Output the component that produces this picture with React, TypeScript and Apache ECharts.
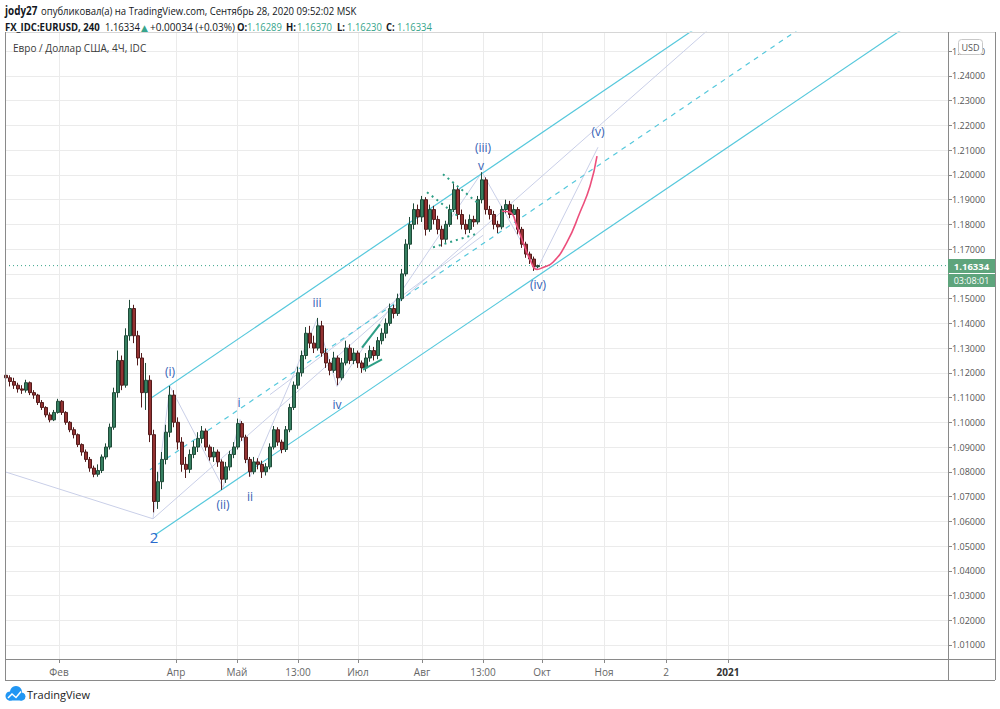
import React, { useEffect, useRef } from "react";
import * as echarts from "echarts";

// ---- data ----
const FIRST_DAY = 5; // day of year of first bar
const BAR_DAYS = 2; // each bar spans two days of the chart's time scale
// [open, close, low, high]
const candles: number[][] = [
  [1.119, 1.118, 1.116, 1.1205], [1.118, 1.1165, 1.1145, 1.119], [1.1165, 1.115, 1.1135, 1.118], [1.115, 1.1135, 1.112, 1.116],
  [1.1135, 1.113, 1.1115, 1.115], [1.113, 1.116, 1.112, 1.1172], [1.116, 1.112, 1.111, 1.1165], [1.112, 1.111, 1.1095, 1.113],
  [1.111, 1.108, 1.107, 1.1115], [1.108, 1.106, 1.105, 1.109], [1.106, 1.103, 1.102, 1.1065], [1.103, 1.101, 1.1, 1.104],
  [1.101, 1.104, 1.1005, 1.105], [1.104, 1.1085, 1.1035, 1.1095], [1.1085, 1.104, 1.103, 1.109], [1.104, 1.1, 1.099, 1.1045],
  [1.1, 1.097, 1.096, 1.1005], [1.097, 1.095, 1.0935, 1.098], [1.095, 1.091, 1.09, 1.0955], [1.091, 1.088, 1.0865, 1.0915],
  [1.088, 1.085, 1.084, 1.089], [1.085, 1.0815, 1.08, 1.086], [1.0815, 1.079, 1.0778, 1.0825], [1.079, 1.0805, 1.078, 1.083],
  [1.0805, 1.086, 1.0795, 1.087], [1.086, 1.09, 1.085, 1.0915], [1.09, 1.098, 1.089, 1.0995], [1.098, 1.112, 1.097, 1.114],
  [1.112, 1.125, 1.11, 1.129], [1.125, 1.115, 1.113, 1.127], [1.115, 1.135, 1.114, 1.138], [1.135, 1.146, 1.133, 1.1495],
  [1.146, 1.135, 1.132, 1.1475], [1.135, 1.126, 1.123, 1.137], [1.126, 1.112, 1.106, 1.128], [1.112, 1.117, 1.105, 1.124],
  [1.117, 1.095, 1.092, 1.119], [1.095, 1.068, 1.0636, 1.097], [1.068, 1.076, 1.065, 1.08], [1.076, 1.085, 1.073, 1.088],
  [1.085, 1.096, 1.083, 1.099], [1.096, 1.111, 1.094, 1.1147], [1.111, 1.1, 1.098, 1.113], [1.1, 1.092, 1.089, 1.102],
  [1.092, 1.083, 1.08, 1.094], [1.083, 1.081, 1.0775, 1.086], [1.081, 1.087, 1.0795, 1.089], [1.087, 1.09, 1.0855, 1.0925],
  [1.09, 1.0935, 1.088, 1.096], [1.0935, 1.0965, 1.0915, 1.0985], [1.0965, 1.09, 1.0885, 1.0975], [1.09, 1.086, 1.0845, 1.091],
  [1.086, 1.088, 1.084, 1.09], [1.088, 1.084, 1.082, 1.089], [1.084, 1.077, 1.0727, 1.085], [1.077, 1.082, 1.0755, 1.084],
  [1.082, 1.087, 1.0805, 1.0885], [1.087, 1.09, 1.0855, 1.092], [1.09, 1.0995, 1.089, 1.1015], [1.0995, 1.094, 1.0925, 1.1005],
  [1.094, 1.085, 1.0835, 1.095], [1.085, 1.08, 1.078, 1.086], [1.08, 1.084, 1.079, 1.086], [1.084, 1.083, 1.081, 1.0855],
  [1.083, 1.08, 1.0775, 1.0845], [1.08, 1.082, 1.0785, 1.0835], [1.082, 1.09, 1.081, 1.0915], [1.09, 1.097, 1.089, 1.0985],
  [1.097, 1.092, 1.0905, 1.098], [1.092, 1.089, 1.0875, 1.093], [1.089, 1.097, 1.088, 1.0985], [1.097, 1.106, 1.096, 1.1075],
  [1.106, 1.115, 1.105, 1.1165], [1.115, 1.12, 1.1135, 1.1225], [1.12, 1.127, 1.1185, 1.129], [1.127, 1.136, 1.1255, 1.1385],
  [1.136, 1.132, 1.13, 1.139], [1.132, 1.13, 1.128, 1.135], [1.13, 1.139, 1.129, 1.1422], [1.139, 1.128, 1.1265, 1.141],
  [1.128, 1.124, 1.122, 1.13], [1.124, 1.121, 1.119, 1.1255], [1.121, 1.126, 1.12, 1.1285], [1.126, 1.118, 1.115, 1.127],
  [1.118, 1.124, 1.117, 1.126], [1.124, 1.13, 1.123, 1.133], [1.13, 1.125, 1.1235, 1.1315], [1.125, 1.128, 1.1235, 1.13],
  [1.128, 1.124, 1.122, 1.129], [1.124, 1.122, 1.12, 1.125], [1.122, 1.126, 1.1205, 1.128], [1.126, 1.129, 1.1245, 1.131],
  [1.129, 1.127, 1.125, 1.1305], [1.127, 1.133, 1.1255, 1.1345], [1.133, 1.136, 1.1315, 1.138], [1.136, 1.14, 1.134, 1.142],
  [1.14, 1.146, 1.139, 1.148], [1.146, 1.144, 1.142, 1.1475], [1.144, 1.15, 1.143, 1.152], [1.15, 1.16, 1.149, 1.162],
  [1.16, 1.172, 1.159, 1.174], [1.172, 1.18, 1.17, 1.183], [1.18, 1.186, 1.178, 1.1885], [1.186, 1.183, 1.18, 1.188],
  [1.183, 1.19, 1.181, 1.1915], [1.19, 1.178, 1.1755, 1.191], [1.178, 1.186, 1.177, 1.188], [1.186, 1.182, 1.18, 1.1875],
  [1.182, 1.178, 1.176, 1.1835], [1.178, 1.174, 1.171, 1.1795], [1.174, 1.18, 1.1725, 1.1815], [1.18, 1.186, 1.179, 1.188],
  [1.186, 1.194, 1.185, 1.1966], [1.194, 1.184, 1.182, 1.195], [1.184, 1.18, 1.178, 1.186], [1.18, 1.178, 1.176, 1.182],
  [1.178, 1.182, 1.1765, 1.184], [1.182, 1.181, 1.179, 1.1835], [1.181, 1.19, 1.18, 1.1915], [1.19, 1.198, 1.1885, 1.2011],
  [1.198, 1.186, 1.184, 1.199], [1.186, 1.184, 1.182, 1.1875], [1.184, 1.18, 1.178, 1.1855], [1.18, 1.179, 1.1765, 1.1815],
  [1.179, 1.186, 1.178, 1.1875], [1.186, 1.188, 1.1845, 1.19], [1.188, 1.184, 1.1825, 1.1895], [1.184, 1.186, 1.183, 1.188],
  [1.186, 1.178, 1.176, 1.187], [1.178, 1.172, 1.1705, 1.179], [1.172, 1.168, 1.1665, 1.173], [1.168, 1.166, 1.164, 1.169],
  [1.166, 1.163, 1.1612, 1.167], [1.1629, 1.16334, 1.1623, 1.1637],
];

const timeTickDays = [31.5, 90, 120.5, 151, 181, 213, 243.5, 273, 304, 335, 366];
const timeTickLabels = ["Фев", "Апр", "Май", "13:00", "Июл", "Авг", "13:00", "Окт", "Ноя", "2", "2021"];
const priceTicks = [
  1.01, 1.02, 1.03, 1.04, 1.05, 1.06, 1.07, 1.08, 1.09, 1.1, 1.11, 1.12, 1.13,
  1.14, 1.15, 1.16, 1.17, 1.18, 1.19, 1.2, 1.21, 1.22, 1.23, 1.24, 1.25,
];
// 1.16000 sits under the last-price boxes in the reference, so it gets no label
const priceLabels = priceTicks.filter((p) => p !== 1.16);
const lastPrice = 1.16334;

// drawings: [day, price]
const upperChannel = [[76.5, 1.1092], [400, 1.2868]];
const lowerChannel = [[79.5, 1.0545], [480, 1.2736]];
const midChannel = [[77, 1.0808], [420, 1.2691]];
const leftTrend = [[4.5, 1.08], [78.5, 1.061]];
const waveZigzag = [
  [78.5, 1.061], [87, 1.1145], [113.5, 1.0736], [122, 1.1011], [127, 1.078],
  [160.5, 1.1416], [170.5, 1.1145], [243, 1.2011], [270.5, 1.1618], [301, 1.2112],
];
const longTrend = [[78.5, 1.061], [380, 1.2757]];
const innerTrend = [[137, 1.1112], [243.5, 1.1756]];
const lastPriceLine = [[4.5, lastPrice], [476, lastPrice]];
const dotted1 = [[223.5, 1.2003], [240.5, 1.1889]];
const dotted2 = [[215.5, 1.193], [231, 1.1833]];
const dotted3 = [[218.5, 1.1707], [239.5, 1.176]];
const wedgeTop = [[183, 1.1302], [192, 1.1396]];
const wedgeBottom = [[183.5, 1.1213], [193, 1.1254]];
const projection = [
  [253, 1.1853], [257, 1.1849], [260.5, 1.1792], [263.5, 1.1728], [267, 1.1659], [270.5, 1.1618],
  [273.5, 1.1626], [278.5, 1.1647], [285.5, 1.1728], [292, 1.1849], [297, 1.1954], [300.5, 1.2076],
];
const waveLabels = [
  { name: "(i)", value: [87, 1.1205] },
  { name: "(ii)", value: [113.5, 1.0667] },
  { name: "i", value: [121.5, 1.108] },
  { name: "ii", value: [127, 1.0699] },
  { name: "iii", value: [160.5, 1.1485] },
  { name: "iv", value: [170.5, 1.1072] },
  { name: "(iii)", value: [243.5, 1.2112] },
  { name: "v", value: [242.5, 1.2038] },
  { name: "(iv)", value: [271, 1.1557] },
  { name: "(v)", value: [301, 1.2177] },
];
const bigLabel = [{ name: "2", value: [79, 1.0537] }];

const FONT = '"Open Sans", "DejaVu Sans", sans-serif';
const CYAN = "#56c8dc";
const FAINT = "#c9cfe8";
const TEAL = "#2e9f86";
const QUOTE = "#37a58c";

function lineSeries(data: number[][], color: string, type: any, width: number, extra: any = {}) {
  return {
    type: "line",
    data,
    symbol: "none",
    silent: true,
    lineStyle: { color, type, width },
    z: 3,
    ...extra,
  };
}

function labelSeries(data: any[], color: string, size: number) {
  return {
    type: "scatter",
    data,
    symbolSize: 1,
    silent: true,
    itemStyle: { color: "rgba(0,0,0,0)" },
    z: 6,
    label: {
      show: true,
      position: "inside",
      formatter: "{b}",
      color,
      opacity: 1,
      textBorderWidth: 0,
      fontSize: size,
      lineHeight: size + 2,
      fontFamily: FONT,
    },
  };
}

function buildOption() {
  const candleData = candles.map((c, i) => [FIRST_DAY + i * BAR_DAYS, c[0], c[1], c[2], c[3]]);
  const frameColor = "#8a8a8a";
  const lineEl = (x1: number, y1: number, x2: number, y2: number, color = frameColor) => ({
    type: "line",
    shape: { x1, y1, x2, y2 },
    style: { stroke: color, lineWidth: 1 },
    z: 100,
  });
  const txt = (x: number, y: number, text: string, font: string, fill: string, extra: any = {}, sx = 1) => ({
    type: "text",
    x,
    y,
    scaleX: sx,
    z: 101,
    style: { text, font, fill, textVerticalAlign: "middle", ...extra },
  });
  const HS = 0.86; // header fonts are narrower than Open Sans
  const hdr = `11.5px ${FONT}`;
  const hdrB = `bold 11.5px ${FONT}`;
  const q = `11px ${FONT}`;
  const qB = `bold 11px ${FONT}`;
  return {
    animation: false,
    backgroundColor: "#ffffff",
    grid: { left: 5, right: 52, top: 32, bottom: 50, containLabel: false, outerBoundsMode: "none" },
    xAxis: {
      type: "value",
      min: 4.5,
      max: 476,
      axisLine: { show: false },
      axisTick: { show: true, customValues: timeTickDays, length: 4, lineStyle: { color: "#888" } },
      axisLabel: {
        customValues: timeTickDays,
        color: "#666",
        fontSize: 10,
        fontFamily: FONT,
        margin: 8,
        formatter: (v: number) => {
          const idx = timeTickDays.findIndex((d) => Math.abs(d - v) < 0.01);
          const t = idx >= 0 ? timeTickLabels[idx] : "";
          return t === "2021" ? "{y|2021}" : t;
        },
        rich: { y: { color: "#333", fontWeight: "bold", fontSize: 10, fontFamily: FONT } },
      },
      splitLine: { show: true, lineStyle: { color: "#ebebeb", width: 1 } },
    },
    yAxis: {
      type: "value",
      position: "right",
      min: 1.00433,
      max: 1.25777,
      axisLine: { show: false },
      axisTick: { show: true, customValues: priceTicks, length: 4, lineStyle: { color: "#888" } },
      axisLabel: {
        customValues: priceLabels,
        color: "#555",
        fontSize: 9,
        fontFamily: FONT,
        margin: 4,
        formatter: (v: number) => v.toFixed(5),
      },
      splitLine: { show: true, lineStyle: { color: "#ebebeb", width: 1 } },
    },
    series: [
      lineSeries(leftTrend, FAINT, "solid", 1),
      lineSeries(waveZigzag, FAINT, "solid", 1),
      lineSeries(longTrend, FAINT, "solid", 1),
      lineSeries(innerTrend, FAINT, "solid", 1),
      lineSeries(upperChannel, CYAN, "solid", 1.2),
      lineSeries(lowerChannel, CYAN, "solid", 1.2),
      lineSeries(midChannel, CYAN, [5, 5], 1.2),
      lineSeries(lastPriceLine, "#3aa58a", [1, 3], 1, { z: 2 }),
      {
        type: "candlestick",
        data: candleData,
        encode: { x: 0, y: [1, 2, 3, 4] },
        barWidth: 3,
        silent: true,
        z: 4,
        itemStyle: {
          color: "#367f60",
          color0: "#933232",
          borderColor: "#1f4a38",
          borderColor0: "#521b1b",
          borderWidth: 1,
        },
      },
      lineSeries(dotted1, TEAL, [2, 4], 2, { z: 5 }),
      lineSeries(dotted2, TEAL, [2, 4], 2, { z: 5 }),
      lineSeries(dotted3, TEAL, [2, 4], 2, { z: 5 }),
      lineSeries(wedgeTop, TEAL, "solid", 2, { z: 5 }),
      lineSeries(wedgeBottom, TEAL, "solid", 2, { z: 5 }),
      lineSeries(projection, "#ec4f7c", "solid", 1.6, { smooth: true, z: 5 }),
      labelSeries(waveLabels, "#3361b5", 12),
      labelSeries(bigLabel, "#2a6bcc", 15),
    ],
    graphic: [
      // header line 1
      txt(5, 11, "jody27", hdrB, "#131722", {}, HS),
      txt(41, 11, "опубликовал(а) на TradingView.com, Сентябрь 28, 2020 09:52:02 MSK", hdr, "#131722", {}, 0.83),
      // header line 2
      txt(5, 27, "FX_IDC:EURUSD, 240", qB, "#131722", {}, 0.87),
      txt(105, 27, "1.16334", q, "#131722", {}, HS),
      txt(141, 27, "▲", `9px ${FONT}`, QUOTE),
      txt(150, 27, "+0.00034 (+0.03%)", q, "#131722", {}, 0.91),
      txt(237, 27, "O:", qB, "#131722", {}, HS),
      txt(247, 27, "1.16289", q, QUOTE, {}, HS),
      txt(286, 27, "H:", qB, "#131722", {}, HS),
      txt(297, 27, "1.16370", q, QUOTE, {}, HS),
      txt(337, 27, "L:", qB, "#131722", {}, HS),
      txt(347, 27, "1.16230", q, QUOTE, {}, HS),
      txt(386, 27, "C:", qB, "#131722", {}, HS),
      txt(397, 27, "1.16334", q, QUOTE, {}, HS),
      // chart title
      txt(13, 48, "Евро / Доллар США, 4Ч, IDC", `10px ${FONT}`, "#3a3a3a"),
      // frame
      lineEl(5, 32.5, 995, 32.5, "#d6d6d6"),
      lineEl(5.5, 32, 5.5, 680),
      lineEl(5, 659.5, 995, 659.5),
      lineEl(5, 680.5, 995, 680.5),
      lineEl(948.5, 32, 948.5, 680),
      lineEl(995.5, 32, 995.5, 680),
      // USD badge
      {
        type: "rect",
        shape: { x: 958.5, y: 39.5, width: 24, height: 15, r: 3 },
        style: { fill: "#ffffff", stroke: "#c8c8c8", lineWidth: 1 },
        z: 100,
      },
      txt(970.5, 47, "USD", `9px ${FONT}`, "#555", { textAlign: "center" }),
      // last price boxes
      { type: "rect", shape: { x: 948, y: 259, width: 47, height: 14 }, style: { fill: "#5ea47c" }, z: 100 },
      txt(971.5, 266, "1.16334", `bold 9.5px ${FONT}`, "#ffffff", { textAlign: "center" }),
      { type: "rect", shape: { x: 948, y: 274, width: 47, height: 13 }, style: { fill: "#5ea47c" }, z: 100 },
      txt(971.5, 280.5, "03:08:01", `9px ${FONT}`, "#ffffff", { textAlign: "center" }),
      // TradingView logo
      { type: "circle", shape: { cx: 10, cy: 696, r: 4.5 }, style: { fill: "#2196f3" }, z: 100 },
      { type: "circle", shape: { cx: 16, cy: 692, r: 6 }, style: { fill: "#2196f3" }, z: 100 },
      { type: "circle", shape: { cx: 21.5, cy: 696.5, r: 4 }, style: { fill: "#2196f3" }, z: 100 },
      { type: "rect", shape: { x: 9, y: 695, width: 13, height: 5.5 }, style: { fill: "#2196f3" }, z: 100 },
      {
        type: "polyline",
        shape: { points: [[8, 698], [12, 694], [16, 697.5], [21, 691.5]] },
        style: { stroke: "#ffffff", lineWidth: 1.5, fill: null },
        z: 101,
      },
      txt(27, 694.5, "TradingView", `11px ${FONT}`, "#222"),
    ],
  };
}

export default function App() {
  const ref = useRef<HTMLDivElement>(null);
  useEffect(() => {
    if (!ref.current) return;
    const chart = echarts.init(ref.current, null, { renderer: "svg", width: 1000, height: 709 });
    chart.setOption(buildOption() as any);
    return () => chart.dispose();
  }, []);
  return (
    <div
      ref={ref}
      style={{ position: "absolute", left: 0, top: 0, width: 1000, height: 709, background: "#fff" }}
    />
  );
}
